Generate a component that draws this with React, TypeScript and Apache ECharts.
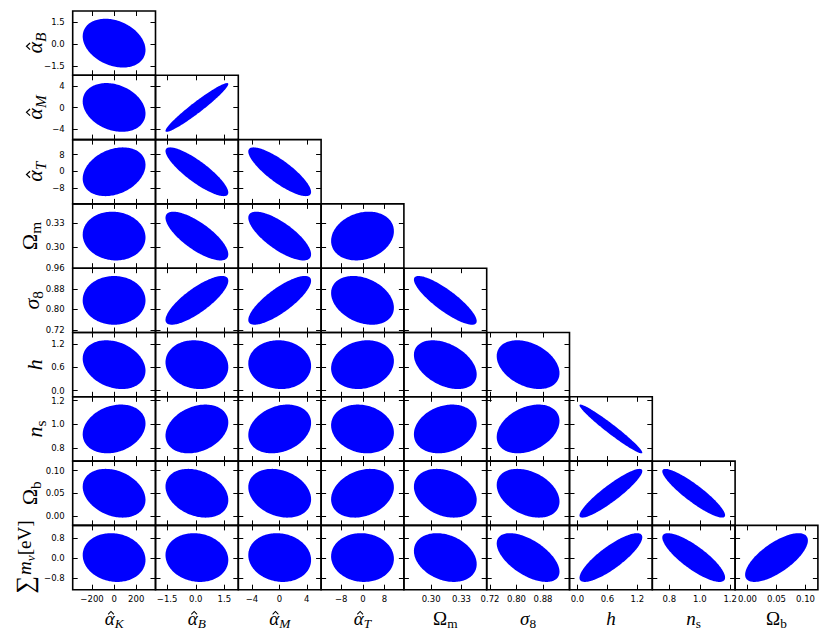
import React, { useEffect, useRef } from "react";
import * as echarts from "echarts";

// ---- data ----
// parameter order: alphaK, alphaB, alphaM, alphaT, Omega_m, sigma8, h, n_s, Omega_b, sum m_nu
const fiducials = [0, 0.06, 0.05, -0.15, 0.314, 0.835, 0.67, 0.96, 0.05, 0.03];
const sigmas = [187.5, 1.085, 3.015, 7.65, 0.0204, 0.0625, 0.415, 0.136, 0.0357, 0.645];
const tickValues = [
  [-200, 0, 200],
  [-1.5, 0, 1.5],
  [-4, 0, 4],
  [-8, 0, 8],
  [0.3, 0.33],
  [0.72, 0.8, 0.88, 0.96],
  [0, 0.6, 1.2],
  [0.8, 1.0, 1.2],
  [0, 0.05, 0.1],
  [-0.8, 0, 0.8],
];
const tickDecimals = [0, 1, 0, 0, 2, 2, 1, 1, 2, 1];
// correlation coefficients, row = y-parameter (alphaB .. sum m_nu), col = x-parameter
const correlations = [
  [-0.28],
  [-0.25, 0.96],
  [0.28, -0.85, -0.83],
  [-0.06, -0.75, -0.75, 0.2],
  [0.0, 0.8, 0.8, -0.3, -0.85],
  [-0.25, -0.1, -0.05, 0.15, -0.4, -0.35],
  [0.22, 0.27, 0.25, -0.15, 0.22, 0.33, -0.97],
  [-0.27, -0.28, -0.25, 0.25, -0.27, -0.34, 0.91, -0.9],
  [-0.1, -0.1, -0.1, -0.05, -0.27, -0.58, 0.83, -0.82, 0.7],
];
const deltaChi2 = 2.3; // 68% contour, 2 parameters
const axisSigmas = 2; // axes span fiducial +/- 2 sigma

type Part = { text: string; italic?: boolean; sub?: boolean; big?: boolean; hat?: boolean };
const axisTitles: Part[][] = [
  [{ text: "α", italic: true, hat: true }, { text: "K", italic: true, sub: true }],
  [{ text: "α", italic: true, hat: true }, { text: "B", italic: true, sub: true }],
  [{ text: "α", italic: true, hat: true }, { text: "M", italic: true, sub: true }],
  [{ text: "α", italic: true, hat: true }, { text: "T", italic: true, sub: true }],
  [{ text: "Ω" }, { text: "m", sub: true }],
  [{ text: "σ", italic: true }, { text: "8", sub: true }],
  [{ text: "h", italic: true }],
  [{ text: "n", italic: true }, { text: "s", sub: true }],
  [{ text: "Ω" }, { text: "b", sub: true }],
  [{ text: "∑", big: true }, { text: "m", italic: true }, { text: "ν", italic: true, sub: true }, { text: "[eV]" }],
];
// baseline x of rotated y titles (rows alphaB..sum m_nu)
const yTitleBaseX = [41.7, 41.7, 41.7, 37, 38.5, 41.7, 41.7, 37, 31];
const yTitleSizes = [22, 22, 22, 22, 22, 22, 22, 22, 19];
const xTitleSize = 19;

// ---- layout ----
const GRID_LEFT = 72.7;
const GRID_TOP = 11;
const CELL_W = 82.8;
const CELL_H = 64.3;
const N_ROWS = 9;

function rangeOf(p: number) {
  return [fiducials[p] - axisSigmas * sigmas[p], fiducials[p] + axisSigmas * sigmas[p]];
}

function fmt(p: number) {
  return (v: number) => Number(v).toFixed(tickDecimals[p]).replace("-", "\u2212");
}

function axisCfg(kind: "x" | "y", position: string, g: number, p: number, showLabel: boolean) {
  const [mn, mx] = rangeOf(p);
  const eps = 1e-9;
  const ticks = tickValues[p].filter((v) => v >= mn - eps && v <= mx + eps);
  const labels =
    kind === "x" ? tickValues[p].filter((v) => v > mn + eps && v < mx - eps) : ticks;
  return {
    type: "value",
    gridIndex: g,
    position,
    min: mn,
    max: mx,
    axisLine: { show: false, onZero: false },
    splitLine: { show: false },
    axisTick: {
      show: true,
      inside: true,
      length: 5,
      lineStyle: { color: "#000", width: 1 },
      customValues: ticks,
    },
    axisLabel: {
      show: showLabel,
      customValues: labels,
      formatter: fmt(p),
      fontSize: 8.5,
      fontFamily: "DejaVu Sans",
      color: "#000",
      margin: kind === "x" ? 5 : 8,
    },
  };
}

function renderEllipse(_params: any, api: any) {
  const cx = api.value(0);
  const cy = api.value(1);
  const sx = api.value(2);
  const sy = api.value(3);
  const rho = api.value(4);
  const r = Math.sqrt(deltaChi2);
  const s = Math.sqrt(1 - rho * rho);
  const pts: number[][] = [];
  const n = 160;
  for (let k = 0; k < n; k++) {
    const t = (2 * Math.PI * k) / n;
    const x = cx + r * sx * Math.cos(t);
    const y = cy + r * sy * (rho * Math.cos(t) + s * Math.sin(t));
    pts.push(api.coord([x, y]));
  }
  return { type: "polygon", shape: { points: pts }, style: { fill: "#0000ff" } };
}

let measureCtx: CanvasRenderingContext2D | null = null;
function measure(text: string, font: string) {
  if (!measureCtx) measureCtx = document.createElement("canvas").getContext("2d");
  if (!measureCtx) return text.length * 8;
  measureCtx.font = font;
  return measureCtx.measureText(text).width;
}

function buildTitle(parts: Part[], x: number, y: number, rotated: boolean, base: number) {
  const items = parts.map((p) => {
    const size = p.big ? base * 1.3 : p.sub ? base * 0.7 : base;
    const font = `${p.italic ? "italic " : ""}${size}px "Liberation Serif"`;
    return { ...p, size, font, w: measure(p.text, font) };
  });
  const total = items.reduce((a, b) => a + b.w, 0);
  let cur = -total / 2;
  const children: any[] = [];
  items.forEach((it) => {
    const drop = it.sub ? base * 0.19 : it.big ? base * 0.12 : 0;
    children.push({
      type: "text",
      x: cur,
      y: drop - 0.3375 * it.size,
      style: {
        text: it.text,
        font: it.font,
        fill: "#000",
        align: "left",
        verticalAlign: "middle",
      },
    });
    if (it.hat) {
      const hc = cur + it.w / 2 + it.size * 0.07;
      const hw = it.size * 0.15;
      children.push({
        type: "polyline",
        shape: {
          points: [
            [hc - hw, -0.53 * it.size],
            [hc, -0.69 * it.size],
            [hc + hw, -0.53 * it.size],
          ],
        },
        style: { stroke: "#000", lineWidth: it.size * 0.055, fill: null, lineJoin: "miter" },
      });
    }
    cur += it.w + (it.big ? 1 : 0);
  });
  return { type: "group", x, y, rotation: rotated ? Math.PI / 2 : 0, children, silent: true };
}

function buildOption() {
  const grids: any[] = [];
  const xAxes: any[] = [];
  const yAxes: any[] = [];
  const series: any[] = [];
  let g = 0;
  for (let i = 0; i < N_ROWS; i++) {
    const py = i + 1;
    for (let j = 0; j <= i; j++) {
      const px = j;
      grids.push({
        left: GRID_LEFT + CELL_W * j,
        top: GRID_TOP + CELL_H * i,
        width: CELL_W,
        height: CELL_H,
        show: true,
        borderColor: "#000",
        borderWidth: 1.6,
        backgroundColor: "transparent",
      });
      xAxes.push(axisCfg("x", "bottom", g, px, i === N_ROWS - 1));
      xAxes.push(axisCfg("x", "top", g, px, false));
      yAxes.push(axisCfg("y", "left", g, py, j === 0));
      yAxes.push(axisCfg("y", "right", g, py, false));
      series.push({
        type: "custom",
        xAxisIndex: 2 * g,
        yAxisIndex: 2 * g,
        renderItem: renderEllipse,
        data: [[fiducials[px], fiducials[py], sigmas[px], sigmas[py], correlations[i][j]]],
        encode: { x: 0, y: 1 },
        silent: true,
        clip: false,
      });
      g++;
    }
  }
  const graphic: any[] = [];
  for (let j = 0; j < N_ROWS; j++) {
    graphic.push(buildTitle(axisTitles[j], GRID_LEFT + CELL_W * (j + 0.5), 624.5, false, xTitleSize));
  }
  for (let i = 0; i < N_ROWS; i++) {
    graphic.push(
      buildTitle(axisTitles[i + 1], yTitleBaseX[i], GRID_TOP + CELL_H * (i + 0.5), true, yTitleSizes[i])
    );
  }
  return {
    animation: false,
    backgroundColor: "#fff",
    grid: grids,
    xAxis: xAxes,
    yAxis: yAxes,
    series,
    graphic,
  };
}

export default function App() {
  const ref = useRef<HTMLDivElement>(null);
  useEffect(() => {
    if (!ref.current) return;
    const chart = echarts.init(ref.current, undefined, { renderer: "svg" });
    chart.setOption(buildOption() as any);
    return () => chart.dispose();
  }, []);
  return (
    <div
      ref={ref}
      style={{ position: "fixed", left: 0, top: 0, width: 830, height: 641, background: "#fff" }}
    />
  );
}
